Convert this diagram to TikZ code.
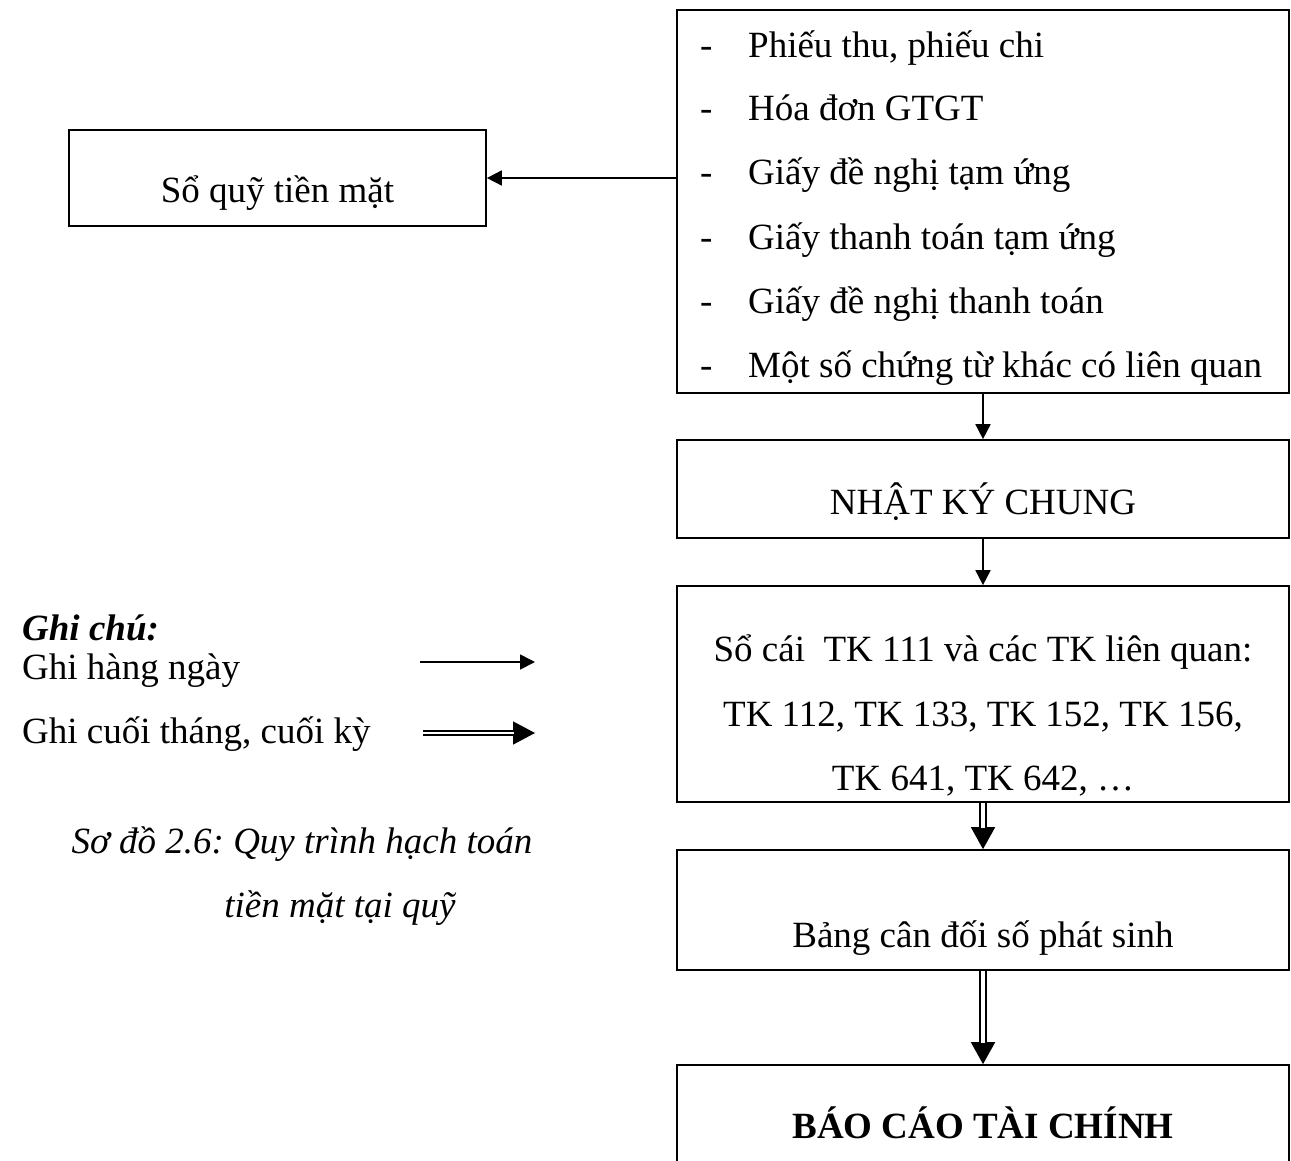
\documentclass[tikz,border=0pt]{standalone}
\usepackage{fontspec}
\setmainfont{Liberation Serif}
\usetikzlibrary{arrows.meta}
\frenchspacing
\begin{document}
\begin{tikzpicture}[x=1pt,y=-1pt,
  txt/.style={font=\fontsize{37}{42}\selectfont, inner sep=0pt},
  box/.style={draw, line width=1.7pt, inner sep=0pt, minimum width=#1},
  arr/.style={line width=1.7pt, -{Triangle[length=15pt,width=15pt]}},
  dbltip/.style={line width=1.7pt, -{Triangle[length=22pt,width=24pt]}},
  dblshaft/.style={draw=black, double=white, double distance=3.5pt, line width=1.8pt, shorten >=21pt},
  ldbltip/.style={line width=1.5pt, -{Triangle[length=22pt,width=23pt]}},
  ldblshaft/.style={draw=black, double=white, double distance=2.8pt, line width=1.6pt, shorten >=21pt}]
\useasboundingbox (0,0) rectangle (1291,1160);
\clip (0,0) rectangle (1291,1160);

% boxes
\node[box=612pt, minimum height=383pt] (src) at (983,201.5) {};
\node[box=417pt, minimum height=96pt] (quy) at (277.5,178) {};
\node[box=612pt, minimum height=98pt] (nkc) at (983,489) {};
\node[box=612pt, minimum height=216pt] (socai) at (983,694) {};
\node[box=612pt, minimum height=120pt] (bcd) at (983,910) {};
\node[box=612pt, minimum height=130pt] (bctc) at (983,1130) {};

% source documents list
\foreach \y/\t [count=\i] in {57/{Phiếu thu, phiếu chi},
    120/{Hóa đơn GTGT},
    184/{Giấy đề nghị tạm ứng},
    249/{Giấy thanh toán tạm ứng},
    313/{Giấy đề nghị thanh toán},
    377/{Một số chứng từ khác có liên quan}} {
  \node[txt, anchor=base west] (dash\i) at (700,\y) {-};
  \node[txt, anchor=base west] (item\i) at (748,\y) {\t};
}

% box texts
\node[txt, anchor=base] (tquy) at (277.5,202) {Sổ quỹ tiền mặt};
\node[txt, anchor=base] (tnkc) at (983,514) {NHẬT KÝ CHUNG};
\node[txt, anchor=base] (tsc1) at (983,661) {Sổ cái\ \ TK 111 và các TK liên quan:};
\node[txt, anchor=base] (tsc2) at (983,726) {TK 112, TK 133, TK 152, TK 156,};
\node[txt, anchor=base] (tsc3) at (983,790) {TK 641, TK 642, …};
\node[txt, anchor=base] (tbcd) at (983,947) {Bảng cân đối số phát sinh};
\node[txt, anchor=base, font=\fontsize{37}{42}\selectfont\bfseries] (tbctc) at (983,1138) {BÁO CÁO TÀI CHÍNH};

% connectors
\draw[arr] (quy.east -| src.west) -- (quy.east);
\draw[arr] (src.south) -- (nkc.north);
\draw[arr] (nkc.south) -- (socai.north);
\draw[dbltip] (socai.south) -- (bcd.north);
\draw[dblshaft] (socai.south) -- (bcd.north);
\draw[dbltip] (bcd.south) -- (bctc.north);
\draw[dblshaft] (bcd.south) -- (bctc.north);

% legend
\node[txt, anchor=base west, font=\fontsize{37}{42}\selectfont\bfseries\itshape] (lg) at (22,640) {Ghi chú:};
\node[txt, anchor=base west] (lg1) at (22,679) {Ghi hàng ngày};
\node[txt, anchor=base west] (lg2) at (22,743) {Ghi cuối tháng, cuối kỳ};
\coordinate (a1) at (420,662);
\coordinate (b1) at (535,662);
\coordinate (a2) at (423,733);
\coordinate (b2) at (535,733);
\draw[arr] (a1) -- (b1);
\draw[ldbltip] (a2) -- (b2);
\draw[ldblshaft] (a2) -- (b2);

% caption
\node[txt, anchor=base, font=\fontsize{37}{42}\selectfont\itshape] (cap1) at (302,853) {Sơ đồ 2.6: Quy trình hạch toán};
\node[txt, anchor=base, font=\fontsize{37}{42}\selectfont\itshape] (cap2) at (340,917) {tiền mặt tại quỹ};
\end{tikzpicture}
\end{document}
